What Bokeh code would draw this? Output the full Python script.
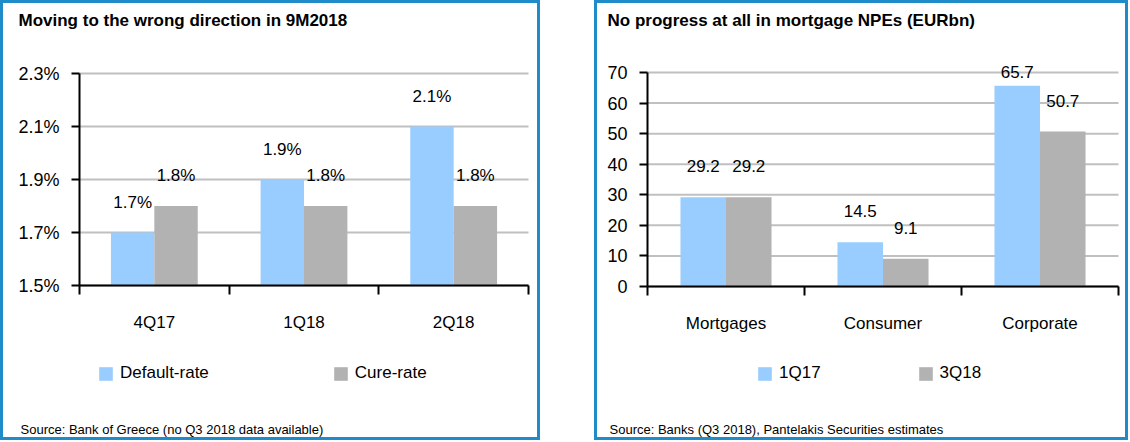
from bokeh.plotting import figure
from bokeh.models import (Range1d, LinearAxis, FixedTicker, Label,
                          PrintfTickFormatter, ColumnDataSource, LabelSet, Legend,
                          LegendItem, Grid)
from bokeh.transform import dodge
from bokeh.core.properties import value
from bokeh.layouts import row
from bokeh.embed import file_html
from bokeh.resources import INLINE

# ---------------- data ----------------
left_title = "Moving to the wrong direction in 9M2018"
left_source = "Source: Bank of Greece (no Q3 2018 data available)"
left_cats = ["4Q17", "1Q18", "2Q18"]
default_rate = [1.7, 1.9, 2.1]
cure_rate = [1.8, 1.8, 1.8]
left_series = ["Default-rate", "Cure-rate"]
left_yticks = [1.5, 1.7, 1.9, 2.1, 2.3]

right_title = "No progress at all in mortgage NPEs (EURbn)"
right_source = "Source: Banks (Q3 2018), Pantelakis Securities estimates"
right_cats = ["Mortgages", "Consumer", "Corporate"]
npe_1q17 = [29.2, 14.5, 65.7]
npe_3q18 = [29.2, 9.1, 50.7]
right_series = ["1Q17", "3Q18"]
right_yticks = [0, 10, 20, 30, 40, 50, 60, 70]

# ---------------- style ----------------
FONT = "Liberation Sans"
BLUE = "#99CCFF"
GRAY = "#B2B2B2"
BORDER = "#1F8BC9"
GRID = "#C0C0C0"
BW = 3  # panel border width (drawn as an inset frame behind a transparent canvas)


def panel(title, source_text, cats, s1, s2, names, yticks, fmt, lab_fmt,
          width, height, plot_l, plot_r, plot_t, plot_b,
          title_x, legend_x, legend_spacing):
    """plot_l/r/t/b: pixel position of the value axes inside the panel."""
    ymin, ymax = yticks[0], yticks[-1]
    n = len(cats)
    cw, ch = width, height
    fl, fr, ft, fb = plot_l, plot_r, plot_t, plot_b
    xs = (fr - fl) / n                                  # px per category
    ys = (fb - ft) / (ymax - ymin)                      # px per y unit
    x_range = Range1d(-fl / xs, n + (cw - fr) / xs)
    y_range = Range1d(ymin - (ch - fb) / ys, ymax + ft / ys)

    p = figure(width=width, height=height, x_range=x_range, y_range=y_range,
               output_backend="svg", toolbar_location=None,
               x_axis_location=None, y_axis_location=None,
               min_border=0, outline_line_color=None,
               background_fill_color=None, border_fill_color=None)
    p.styles = {"box-shadow": f"inset 0 0 0 {BW}px {BORDER}", "background-color": "white"}
    for r in list(p.center):
        if isinstance(r, Grid):
            r.visible = False

    def offs(vals):
        return [min(25, (ymax - v) * ys - 5) for v in vals]

    centers = [i + 0.5 for i in range(n)]
    src = ColumnDataSource(dict(xc=centers, v1=s1, v2=s2,
                                t1=[lab_fmt.format(v) for v in s1],
                                t2=[lab_fmt.format(v) for v in s2],
                                o1=offs(s1), o2=offs(s2)))

    # horizontal gridlines spanning the category area only
    p.segment(x0=0, x1=n, y0=yticks, y1=yticks, line_color=GRID, line_width=2,
              level="underlay")

    r1 = p.vbar(x=dodge("xc", -0.145), top="v1", bottom=ymin,
                width=0.29, source=src, fill_color=BLUE, line_color=None)
    r2 = p.vbar(x=dodge("xc", 0.145), top="v2", bottom=ymin,
                width=0.29, source=src, fill_color=GRAY, line_color=None)

    for xo, col, tcol, ocol in ((-0.145, "v1", "t1", "o1"), (0.145, "v2", "t2", "o2")):
        p.add_layout(LabelSet(x=dodge("xc", xo), y=col, text=tcol,
                              y_offset=ocol, source=src, text_align="center",
                              text_baseline="alphabetic", text_font=value(FONT),
                              text_font_size=value("17px"), text_color="#000000"))

    # y axis (fixed at the left edge of the categories)
    yax = LinearAxis(fixed_location=0, bounds=(ymin, ymax),
                     ticker=FixedTicker(ticks=yticks), formatter=PrintfTickFormatter(format=fmt),
                     major_tick_out=8, major_tick_in=0, minor_tick_line_color=None,
                     axis_line_width=2, major_tick_line_width=2,
                     major_label_text_font=FONT, major_label_text_font_size="18px",
                     major_label_text_color="#000000", major_label_standoff=12)
    p.add_layout(yax, "left")

    # x axis: labels at category centres, tick marks at category boundaries
    xax = LinearAxis(fixed_location=ymin, bounds=(0, n),
                     ticker=FixedTicker(ticks=centers, minor_ticks=list(range(n + 1))),
                     major_label_overrides={c: lab for c, lab in zip(centers, cats)},
                     axis_line_width=2, axis_line_color="#000000",
                     major_tick_line_color=None, major_tick_out=0, major_tick_in=0,
                     minor_tick_line_color="#000000", minor_tick_line_width=2,
                     minor_tick_out=9, minor_tick_in=0,
                     major_label_text_font=FONT, major_label_text_font_size="17px",
                     major_label_text_color="#000000", major_label_standoff=18)
    p.add_layout(xax, "below")

    # legend
    lg = Legend(items=[LegendItem(label=names[0], renderers=[r1]),
                       LegendItem(label=names[1], renderers=[r2])],
                location=(legend_x, ch - 383), orientation="horizontal",
                border_line_color=None, background_fill_alpha=0,
                padding=0, margin=0, spacing=legend_spacing,
                glyph_width=17, glyph_height=17, label_height=17, label_standoff=6,
                label_text_font=FONT, label_text_font_size="17px",
                label_text_color="#000000")
    p.add_layout(lg)

    # title and source note
    p.add_layout(Label(x=title_x, y=ch - 20, x_units="screen", y_units="screen",
                       text=title, text_font=FONT, text_font_style="bold",
                       text_font_size="17px", text_baseline="middle", text_color="#000000"))
    p.add_layout(Label(x=title_x + 2, y=ch - 429, x_units="screen", y_units="screen",
                       text=source_text, text_font=FONT, text_font_size="13px",
                       text_baseline="middle", text_color="#000000"))
    return p


# panel positions (pixels from each panel's top-left corner)
p1 = panel(left_title, left_source, left_cats, default_rate, cure_rate, left_series,
           left_yticks, "%.1f%%", "{:.1f}%", 540, 440,
           79, 528, 73, 285, 18, 97, 123)
p2 = panel(right_title, right_source, right_cats, npe_1q17, npe_3q18, right_series,
           right_yticks, "%d", "{:.1f}", 534, 440,
           647 - 594, 1118 - 594, 72, 286, 607 - 594, 756 - 594, 96)

layout = row(p1, p2, spacing=54)
open("out.html", "w").write(file_html(layout, INLINE))
